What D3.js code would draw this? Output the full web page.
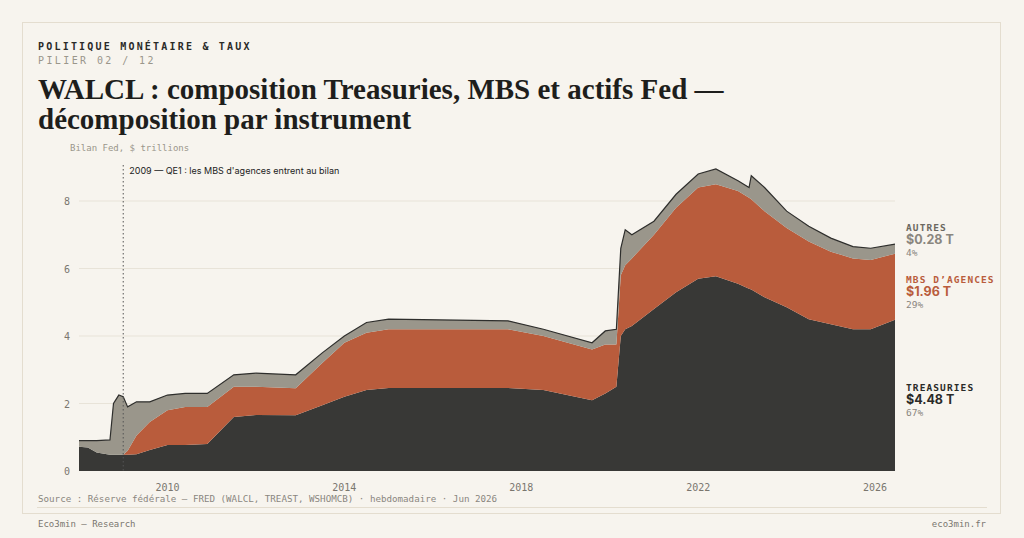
<!DOCTYPE html>
<html><head><meta charset="utf-8">
<script src="https://cdn.jsdelivr.net/npm/d3@7"></script>
<style>body{margin:0;background:#f7f4ee;}svg{display:block}</style>
</head><body><svg id="c" width="1024" height="538"></svg>
<script>
const dates=[2008.00,2008.20,2008.40,2008.70,2008.78,2008.90,2009.00,2009.10,2009.30,2009.60,2010.00,2010.40,2010.90,2011.50,2012.00,2012.90,2013.50,2014.00,2014.50,2015.00,2017.70,2018.50,2019.60,2019.90,2020.15,2020.25,2020.35,2020.50,2021.00,2021.50,2022.00,2022.40,2022.90,2023.15,2023.20,2023.50,2024.00,2024.50,2025.00,2025.50,2025.90,2026.45];
const treasuries=[.72,.70,.55,.48,.48,.48,.48,.48,.50,.62,.77,.77,.80,1.60,1.66,1.65,1.95,2.20,2.40,2.46,2.46,2.40,2.10,2.30,2.50,4.00,4.20,4.30,4.80,5.30,5.70,5.77,5.55,5.40,5.38,5.15,4.85,4.50,4.35,4.20,4.20,4.48];
const mbs=[0,0,0,0,0,0,0,.12,.55,.83,1.03,1.13,1.10,.90,.84,.80,1.25,1.60,1.70,1.74,1.74,1.60,1.50,1.45,1.25,1.80,1.90,2.00,2.20,2.50,2.70,2.73,2.75,2.70,2.67,2.55,2.35,2.30,2.15,2.10,2.05,1.96];
const autres=[.18,.20,.35,.44,1.52,1.77,1.72,1.30,1.00,.60,.45,.40,.40,.35,.40,.40,.30,.20,.30,.30,.25,.20,.20,.40,.45,.80,1.05,.70,.40,.40,.40,.45,.30,.30,.70,.70,.50,.45,.40,.35,.35,.28];
const xTicks=[2010,2014,2018,2022,2026];
const yTicks=[0,2,4,6,8];
const seriesNames=["treasuries","mbs","autres"];
const colors={treasuries:"#383836",mbs:"#b95c3c",autres:"#9a968b"};
const labels=[
 {k:"autres",name:"AUTRES",val:"$0.28 T",pct:"4%",y:227,nc:"#6b6860",vc:"#8a867e"},
 {k:"mbs",name:"MBS D’AGENCES",val:"$1.96 T",pct:"29%",y:279,nc:"#b95c3c",vc:"#b95c3c"},
 {k:"treasuries",name:"TREASURIES",val:"$4.48 T",pct:"67%",y:387,nc:"#2a2a28",vc:"#2a2a28"}];

const svg=d3.select("#c");
const mono="'DejaVu Sans Mono','Liberation Mono',monospace";
svg.append("rect").attr("x",22.5).attr("y",22.5).attr("width",978).attr("height",491).attr("fill","none").attr("stroke","#e4ddcf");
svg.append("line").attr("x1",37).attr("x2",987).attr("y1",507.5).attr("y2",507.5).attr("stroke","#e4ddcf");
svg.append("text").attr("x",38).attr("y",50).text("POLITIQUE MONÉTAIRE & TAUX").attr("font-family",mono).attr("font-size",10).attr("font-weight","bold").attr("letter-spacing",2.2).attr("fill","#2a2a28");
svg.append("text").attr("x",38).attr("y",64).text("PILIER 02 / 12").attr("font-family",mono).attr("font-size",10).attr("letter-spacing",2.4).attr("fill","#9a968b");
["WALCL : composition Treasuries, MBS et actifs Fed —","décomposition par instrument"].forEach((t,i)=>
 svg.append("text").attr("x",38).attr("y",99+i*30).text(t).attr("font-family","'Liberation Serif',serif").attr("font-weight","bold").attr("font-size",29).attr("fill","#1e1e1c"));
svg.append("text").attr("x",70).attr("y",151).text("Bilan Fed, $ trillions").attr("font-family",mono).attr("font-size",9).attr("fill","#9a968b");

const x=d3.scaleLinear().domain([2008,2026.45]).range([79,895]);
const y=d3.scaleLinear().domain([0,8]).range([471,201]);
const g=svg.append("g");
yTicks.forEach(t=>{
 if(t>0) g.append("line").attr("x1",79).attr("x2",895).attr("y1",y(t)).attr("y2",y(t)).attr("stroke","#e8e3d8");
 g.append("text").attr("x",70).attr("y",y(t)+4).attr("text-anchor","end").text(t).attr("font-family",mono).attr("font-size",10).attr("fill","#7a766e");
});
xTicks.forEach(t=>g.append("text").attr("x",x(t)).attr("y",491).attr("text-anchor","middle").text(t).attr("font-family",mono).attr("font-size",10).attr("fill","#7a766e"));

const rows=dates.map((d,i)=>({d,treasuries:treasuries[i],mbs:mbs[i],autres:autres[i]}));
const stack=d3.stack().keys(seriesNames)(rows);
const area=d3.area().x(p=>x(p.data.d)).y0(p=>y(p[0])).y1(p=>y(p[1]));
stack.forEach(s=>g.append("path").attr("d",area(s)).attr("fill",colors[s.key]));
g.append("path").attr("d",d3.line().x(p=>x(p.data.d)).y(p=>y(p[1]))(stack[2])).attr("fill","none").attr("stroke","#2e2e2c").attr("stroke-width",1.2);

g.append("line").attr("x1",x(2009)).attr("x2",x(2009)).attr("y1",165).attr("y2",471).attr("stroke","#555").attr("stroke-dasharray","1.5,2.5");
g.append("text").attr("x",x(2009)+6).attr("y",174).text("2009 — QE1 : les MBS d'agences entrent au bilan").attr("font-family","Inter,'Noto Sans',sans-serif").attr("font-size",9).attr("fill","#222");

labels.forEach(l=>{
 g.append("text").attr("x",906).attr("y",l.y+4).text(l.name).attr("font-family",mono).attr("font-size",9.5).attr("font-weight","bold").attr("letter-spacing",1.1).attr("fill",l.nc);
 g.append("text").attr("x",906).attr("y",l.y+17).text(l.val).attr("font-family","Inter,sans-serif").attr("font-size",12.5).attr("font-weight","bold").attr("fill",l.vc);
 g.append("text").attr("x",906).attr("y",l.y+29).text(l.pct).attr("font-family",mono).attr("font-size",9.5).attr("fill","#8a867e");
});
svg.append("text").attr("x",38).attr("y",502).text("Source : Réserve fédérale — FRED (WALCL, TREAST, WSHOMCB) · hebdomadaire · Jun 2026").attr("font-family",mono).attr("font-size",9.2).attr("fill","#8a867e");
svg.append("text").attr("x",38).attr("y",527).text("Eco3min — Research").attr("font-family",mono).attr("font-size",9).attr("fill","#7a766e");
svg.append("text").attr("x",986).attr("y",527).attr("text-anchor","end").text("eco3min.fr").attr("font-family",mono).attr("font-size",9).attr("fill","#7a766e");
</script></body></html>
